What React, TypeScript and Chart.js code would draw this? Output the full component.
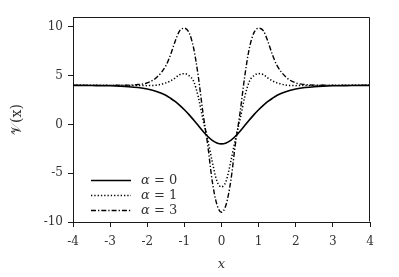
import React, { useEffect, useRef } from "react";
import { Chart, registerables } from "chart.js";

Chart.register(...registerables);

const xValues = [-4, -3.5, -3, -2.5, -2.25, -2, -1.75, -1.5, -1.375, -1.25, -1.125, -1, -0.875, -0.75, -0.625, -0.5, -0.375, -0.25, -0.125, 0, 0.125, 0.25, 0.375, 0.5, 0.625, 0.75, 0.875, 1, 1.125, 1.25, 1.375, 1.5, 1.75, 2, 2.25, 2.5, 3, 3.5, 4];

const alpha0 = [4.0, 3.98, 3.95, 3.86, 3.77, 3.62, 3.38, 2.98, 2.68, 2.35, 1.95, 1.5, 1.0, 0.45, -0.12, -0.7, -1.22, -1.63, -1.9, -2, -1.9, -1.63, -1.22, -0.7, -0.12, 0.45, 1.0, 1.5, 1.95, 2.35, 2.68, 2.98, 3.38, 3.62, 3.77, 3.86, 3.95, 3.98, 4.0];

const alpha1 = [4.0, 4.0, 4.0, 3.99, 3.98, 3.97, 4.02, 4.25, 4.45, 4.75, 5.1, 5.2, 5.0, 4.4, 2.8, 0.5, -1.5, -3.8, -5.8, -6.4, -5.8, -3.8, -1.5, 0.5, 2.8, 4.4, 5.0, 5.2, 5.1, 4.75, 4.45, 4.25, 4.02, 3.97, 3.98, 3.99, 4.0, 4.0, 4.0];

const alpha3 = [4.0, 4.0, 4.0, 4.02, 4.08, 4.25, 4.8, 6.0, 7.1, 8.5, 9.6, 9.85, 9.4, 7.8, 4.9, 1.2, -2.0, -5.8, -8.2, -9.0, -8.2, -5.8, -2.0, 1.2, 4.9, 7.8, 9.4, 9.85, 9.6, 8.5, 7.1, 6.0, 4.8, 4.25, 4.08, 4.02, 4.0, 4.0, 4.0];

const seriesLabels = ["α = 0", "α = 1", "α = 3"];
const xTicks = [-4, -3, -2, -1, 0, 1, 2, 3, 4];
const yTicks = [-10, -5, 0, 5, 10];
const xTitle = "x";
const yTitle = "𝒱(x)";

const FONT = "'DejaVu Serif', 'Liberation Serif', serif";
const INK = "#1a1a1a";
const TEXT = "#333";

const boxPlugin = {
  id: "boxPlugin",
  afterDatasetsDraw(chart: any) {
    const { ctx, chartArea } = chart;
    const l = Math.round(chartArea.left) + 0.5;
    const r = Math.round(chartArea.right) - 0.5;
    const t = Math.round(chartArea.top) + 0.5;
    const b = Math.round(chartArea.bottom) - 0.5;
    ctx.save();
    ctx.strokeStyle = INK;
    ctx.lineWidth = 1;
    ctx.beginPath();
    ctx.moveTo(l, t);
    ctx.lineTo(r, t);
    ctx.lineTo(r, b);
    ctx.stroke();
    ctx.restore();
  },
};

const legendPlugin = {
  id: "innerLegend",
  afterDatasetsDraw(chart: any) {
    const { ctx, chartArea } = chart;
    const ds = chart.data.datasets;
    const n = ds.length;
    ctx.save();
    ds.forEach((d: any, i: number) => {
      const y = chartArea.bottom - 11.5 - (n - 1 - i) * 15;
      const x0 = chartArea.left + 18;
      const x1 = chartArea.left + 58;
      ctx.strokeStyle = d.borderColor;
      ctx.lineWidth = d.borderWidth;
      ctx.setLineDash(d.borderDash || []);
      ctx.beginPath();
      ctx.moveTo(x0, y);
      ctx.lineTo(x1, y);
      ctx.stroke();
      ctx.setLineDash([]);
      const label: string = d.label;
      const first = label.charAt(0);
      const rest = label.slice(1);
      ctx.fillStyle = TEXT;
      ctx.textBaseline = "middle";
      ctx.textAlign = "left";
      const tx = chartArea.left + 68;
      ctx.font = `italic 13px ${FONT}`;
      ctx.fillText(first, tx, y);
      const w = ctx.measureText(first).width;
      ctx.font = `13px ${FONT}`;
      ctx.fillText(rest, tx + w, y);
    });
    ctx.restore();
  },
};

export default function App() {
  const canvasRef = useRef<HTMLCanvasElement | null>(null);

  useEffect(() => {
    if (!canvasRef.current) return;
    const styles = [
      { borderDash: [], borderWidth: 1.6 },
      { borderDash: [1.3, 2], borderWidth: 1.5 },
      { borderDash: [5, 2, 1.3, 2], borderWidth: 1.4 },
    ];
    const seriesData = [alpha0, alpha1, alpha3];
    const chart = new Chart(canvasRef.current, {
      type: "line",
      data: {
        datasets: seriesData.map((vals, i) => ({
          label: seriesLabels[i],
          data: xValues.map((x, j) => ({ x, y: vals[j] })),
          borderColor: "#000",
          borderWidth: styles[i].borderWidth,
          borderDash: styles[i].borderDash,
          pointRadius: 0,
          fill: false,
          cubicInterpolationMode: "monotone",
        })),
      },
      options: {
        animation: false,
        responsive: true,
        maintainAspectRatio: false,
        layout: { padding: { top: 17, right: 29, left: 0, bottom: 0 } },
        plugins: {
          legend: { display: false },
          tooltip: { enabled: false },
        },
        scales: {
          x: {
            type: "linear",
            min: -4,
            max: 4,
            afterBuildTicks: (scale: any) => {
              scale.ticks = xTicks.map((v) => ({ value: v }));
            },
            afterFit: (scale: any) => {
              scale.height = 55;
            },
            grid: { drawOnChartArea: false, drawTicks: true, tickLength: 5, color: INK },
            border: { display: true, color: INK, width: 1 },
            ticks: { color: TEXT, font: { family: FONT, size: 12 }, padding: 8, maxRotation: 0 },
            title: {
              display: true,
              text: xTitle,
              color: TEXT,
              font: { family: FONT, size: 13, style: "italic" },
              padding: { top: 0, bottom: 5 },
            },
          },
          y: {
            type: "linear",
            min: -10,
            max: 11,
            afterBuildTicks: (scale: any) => {
              scale.ticks = yTicks.map((v) => ({ value: v }));
            },
            afterFit: (scale: any) => {
              scale.width = 73;
            },
            grid: { drawOnChartArea: false, drawTicks: true, tickLength: 5, color: INK },
            border: { display: true, color: INK, width: 1 },
            ticks: { color: TEXT, font: { family: FONT, size: 12 }, padding: 5 },
            title: {
              display: true,
              text: yTitle,
              color: TEXT,
              font: { family: FONT, size: 14 },
              padding: { top: 9, bottom: 0 },
            },
          },
        },
      },
      plugins: [boxPlugin, legendPlugin],
    } as any);
    return () => chart.destroy();
  }, []);

  return (
    <div style={{ position: "absolute", left: 0, top: 0, width: 399, height: 277 }}>
      <canvas ref={canvasRef} />
    </div>
  );
}
